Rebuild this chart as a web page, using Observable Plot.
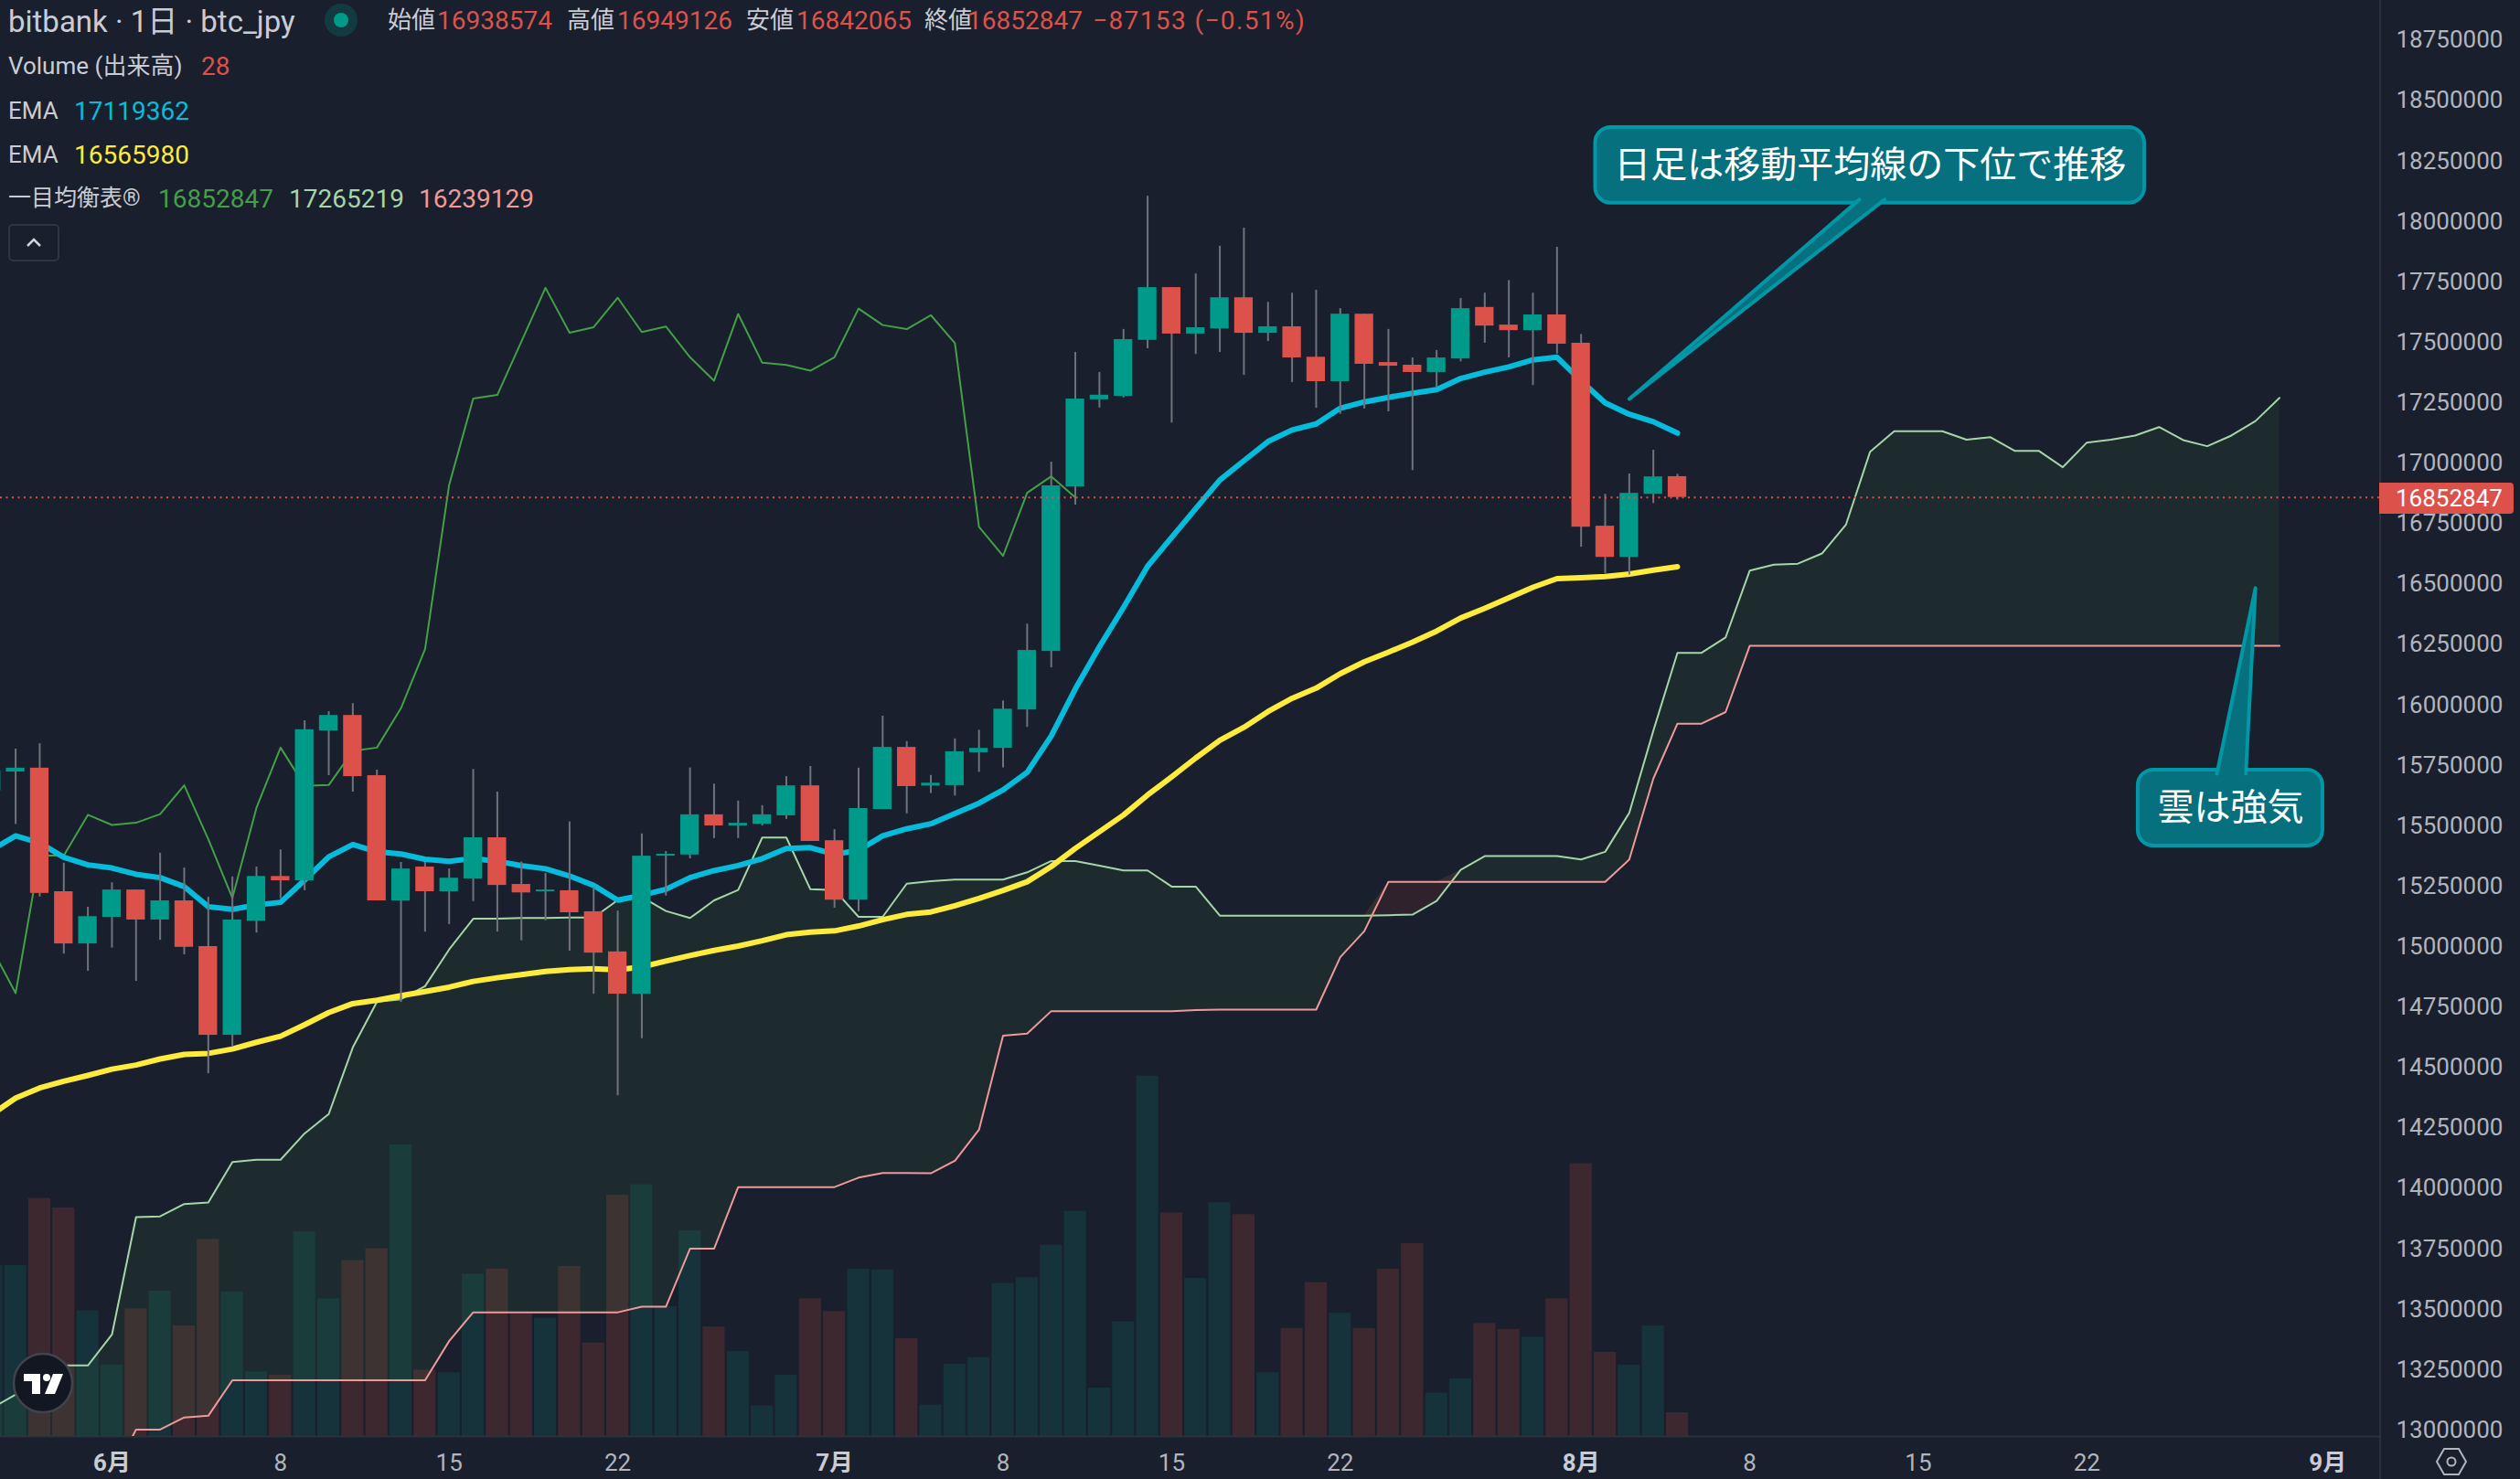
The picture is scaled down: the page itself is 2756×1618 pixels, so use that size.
<!DOCTYPE html>
<html lang="ja">
<head>
<meta charset="utf-8">
<title>bitbank 1日 btc_jpy</title>
<script src="https://cdn.jsdelivr.net/npm/d3@7"></script>
<script src="https://cdn.jsdelivr.net/npm/@observablehq/plot@0.6"></script>
<style>
  html, body { margin: 0; background: #191f2c; }
  #wrap { position: relative; width: 2756px; height: 1618px; overflow: hidden; font-family: Roboto, "Noto Sans CJK JP", sans-serif; }
  #volume, #price { position: absolute; left: 0; top: 0; width: 2756px; height: 1618px; }
  .t { position: absolute; white-space: pre; line-height: 1; font-size: 28px; color: #c9ccd4; }
  .red { color: #dc524b; }
</style>
</head>
<body>
<div id="wrap">
  <div id="volume"></div>
  <div id="price"></div>
  <div style="position:absolute;left:2602px;top:0;width:2px;height:1618px;background:#2a303c"></div>

  <div class="t" style="left:9px;top:7px;font-size:33px">bitbank · 1日 · btc_jpy</div>
  <div style="position:absolute;left:355px;top:4px;width:36px;height:36px;border-radius:50%;background:rgba(0,154,138,.22)"></div>
  <div style="position:absolute;left:365px;top:14px;width:16px;height:16px;border-radius:50%;background:#009a8a"></div>
  <div class="t" style="left:424px;top:9px;font-size:26px">始値</div><div class="t red" style="left:478px;top:9px">16938574</div>
  <div class="t" style="left:620px;top:9px;font-size:26px">高値</div><div class="t red" style="left:675px;top:9px">16949126</div>
  <div class="t" style="left:816px;top:9px;font-size:26px">安値</div><div class="t red" style="left:871px;top:9px">16842065</div>
  <div class="t" style="left:1011px;top:9px;font-size:26px">終値</div><div class="t red" style="left:1058px;top:9px">16852847</div>
  <div class="t red" style="left:1195px;top:9px;letter-spacing:1.4px">−87153 (−0.51%)</div>

  <div class="t" style="left:9px;top:59px;font-size:26px">Volume (出来高)</div><div class="t red" style="left:220px;top:59px">28</div>
  <div class="t" style="left:9px;top:108px;font-size:26px">EMA</div><div class="t" style="left:81px;top:108px;color:#06bcdc">17119362</div>
  <div class="t" style="left:9px;top:156px;font-size:26px">EMA</div><div class="t" style="left:81px;top:156px;color:#ffeb3b">16565980</div>
  <div class="t" style="left:9px;top:204px;font-size:25px">一目均衡表®</div>
  <div class="t" style="left:173px;top:204px;color:#43a047">16852847</div>
  <div class="t" style="left:316px;top:204px;color:#a5d6a7">17265219</div>
  <div class="t" style="left:458px;top:204px;color:#ef9a9a">16239129</div>

  <svg style="position:absolute;left:9px;top:245px" width="56" height="41">
    <rect x="1" y="1" width="54" height="39" rx="4" fill="none" stroke="#2e3441" stroke-width="2"/>
    <path d="M21 24 L28 17 L35 24" fill="none" stroke="#d1d4dc" stroke-width="2.5"/>
  </svg>

  <svg style="position:absolute;left:13px;top:1479px" width="68" height="68">
    <circle cx="34" cy="34" r="32" fill="#131722" stroke="#41444c" stroke-width="2.5"/>
    <path d="M13 24 H31 V46 H22 V32 H13 Z M36 46 L45 24 H56 L47 46 Z" fill="#fff"/>
    <circle cx="38" cy="28" r="4" fill="#fff"/>
  </svg>

  <svg style="position:absolute;left:2662px;top:1580px" width="38" height="38">
    <path d="M11 5 H27 L35 19 L27 33 H11 L3 19 Z" fill="none" stroke="#b2b5be" stroke-width="2"/>
    <circle cx="19" cy="19" r="4.5" fill="none" stroke="#b2b5be" stroke-width="2"/>
  </svg>
</div>

<script>
// day index: 0 = 5/28, one step per day. Prices in thousand yen.
const firstDay = -1;

const opens = [15639,15717,15733,15222,15006,15116,15229,15105,15184,14995,14628,15100,15285,15267,15887,15951,15702,15184,15324,15222,15275,15445,15252,15222,15226,15139,14973,14798,15369,15374,15540,15494,15501,15536,15660,15433,15187,15562,15819,15659,15661,15797,15815,15974,16216,16896,17257,17271,17503,17721,17529,17550,17679,17532,17559,17433,17332,17611,17411,17400,17370,17426,17639,17566,17543,17608,17491,16734,16605,16866,16939];
const highs = [15800,15812,15834,15340,15158,15259,15229,15381,15320,15199,15283,15324,15395,15929,15967,16000,15725,15343,15343,15316,15728,15634,15345,15298,15511,15239,15142,15461,15388,15734,15667,15597,15578,15698,15740,15479,15733,15948,15843,15703,15854,15890,16011,16329,16999,17453,17370,17548,18099,17721,17778,17892,17967,17660,17698,17710,17634,17611,17548,17430,17461,17676,17698,17750,17698,17888,17527,16866,16950,17048,16949];
const lows = [15560,15500,15200,14964,14893,14989,14851,15021,14961,14469,14579,15051,15193,15226,15702,15634,15184,14764,15055,15086,15181,15055,15019,15102,14976,14798,14378,14614,15204,15358,15442,15442,15494,15521,15430,15154,15139,15562,15544,15628,15618,15716,15734,15902,16148,16821,17223,17265,17468,17161,17445,17453,17358,17498,17328,17222,17197,17219,17207,16964,17306,17414,17491,17430,17316,17446,16647,16537,16532,16828,16842];
const closes = [15721,15733,15215,15006,15119,15229,15105,15184,14992,14628,15105,15285,15267,15892,15951,15698,15184,15316,15222,15278,15445,15248,15217,15229,15135,14968,14798,15369,15377,15540,15494,15505,15540,15660,15430,15187,15566,15819,15657,15671,15801,15815,15977,16220,16901,17260,17276,17506,17721,17529,17555,17679,17532,17559,17430,17332,17611,17404,17396,17370,17430,17634,17562,17543,17608,17487,16730,16605,16870,16938,16853];
const volumes = [201,201,280,269,148,84,150,171,130,232,170,76,72,241,162,207,221,343,78,75,191,197,144,139,200,110,284,296,153,242,129,100,36,72,162,147,197,196,115,37,85,93,180,187,225,265,57,135,424,263,186,275,261,75,127,181,145,127,197,227,51,68,133,126,117,162,321,99,84,130,28];

const emaFast = [15395,15453,15424,15364,15333,15320,15294,15280,15243,15160,15149,15167,15178,15270,15366,15417,15387,15378,15356,15348,15359,15348,15330,15317,15287,15248,15187,15207,15232,15280,15309,15330,15359,15401,15404,15377,15393,15453,15482,15503,15545,15588,15643,15716,15866,16061,16235,16398,16568,16688,16807,16925,17005,17084,17132,17157,17222,17248,17267,17284,17299,17345,17371,17393,17422,17433,17335,17244,17197,17166,17119];
const emaSlow = [14300,14368,14410,14438,14462,14488,14505,14530,14549,14553,14571,14599,14624,14672,14722,14759,14773,14792,14809,14827,14851,14866,14879,14892,14900,14903,14899,14911,14935,14958,14979,14997,15019,15044,15055,15060,15080,15106,15128,15138,15164,15194,15227,15263,15326,15401,15470,15539,15622,15697,15775,15848,15902,15967,16022,16064,16124,16173,16213,16254,16300,16354,16394,16438,16481,16517,16521,16526,16536,16552,16566];
const chikou = [14990,14802,15371,15371,15540,15498,15507,15543,15662,15439,15196,15569,15818,15660,15663,15804,15818,15981,16225,16905,17262,17277,17498,17720,17534,17557,17679,17537,17560,17433,17336,17612,17410,17401,17377,17433,17634,17566,17549,17607,17491,16731,16611,16872,16940,16853];
const senkouA = [13085,13142,13199,13262,13262,13390,13876,13879,13930,13936,14104,14113,14113,14222,14302,14578,14766,14777,14831,14983,15110,15110,15113,15113,15115,15115,15187,15200,15142,15113,15186,15229,15446,15446,15232,15229,15118,15118,15255,15265,15272,15272,15272,15302,15349,15349,15330,15310,15310,15243,15243,15123,15123,15123,15123,15123,15123,15123,15125,15127,15184,15312,15369,15369,15369,15369,15355,15387,15548,15888,16210,16210,16274,16550,16575,16579,16621,16741,17042,17127,17127,17127,17092,17102,17046,17046,16978,17080,17092,17109,17144,17090,17065,17109,17169,17265];
// the first six are below the pane, only the edge of the cloud shows
const senkouB = [12500,12500,12500,12500,12500,12800,12997,12997,13047,13054,13201,13201,13201,13201,13201,13201,13201,13201,13201,13363,13482,13482,13482,13482,13482,13482,13482,13505,13505,13745,13745,14000,14000,14000,14000,14000,14039,14058,14058,14057,14109,14237,14626,14635,14728,14728,14728,14728,14728,14728,14732,14734,14734,14734,14734,14734,14951,15059,15263,15263,15263,15263,15263,15263,15263,15263,15263,15263,15355,15690,15917,15917,15965,16239,16239,16239,16239,16239,16239,16239,16239,16239,16239,16239,16239,16239,16239,16239,16239,16239,16239,16239,16239,16239,16239,16239];

const priceTicks = [18750,18500,18250,18000,17750,17500,17250,17000,16750,16500,16250,16000,15750,15500,15250,15000,14750,14500,14250,14000,13750,13500,13250,13000];
const dayTicks = [11,18,25,41,48,55,72,79,86];
const dayLabels = ["8","15","22","8","15","22","8","15","22"];
const monthTicks = [4,34,65,96];
const monthLabels = ["6月","7月","8月","9月"];

const lastClose = 16852.847;

const UP = "#009a8a", DOWN = "#dc524b";
const candles = opens.map((open, k) => ({
  i: k + firstDay, open, high: highs[k], low: lows[k], close: closes[k], volume: volumes[k],
}));
const rising = candles.filter(d => d.close >= d.open);
const falling = candles.filter(d => d.close < d.open);

const series = values => values.map((v, k) => ({ i: k + firstDay, v }));
const cloud = senkouA.map((a, k) => ({ i: k + firstDay, a, b: senkouB[k], top: Math.max(a, senkouB[k]) }));

const xScale = { type: "linear", domain: [0, 96], range: [16.6, 2545.2] };
const size = { width: 2756, height: 1618, marginTop: 0, marginLeft: 0, marginRight: 154, marginBottom: 47 };

// volume has its own scale, so it gets its own svg underneath
const volumeChart = Plot.plot({
  ...size,
  style: { background: "none", maxWidth: "none" },
  x: { ...xScale, axis: null },
  y: { domain: [0, 1000], range: [1571, 641], axis: null },
  marks: [
    Plot.rect(rising, { x1: d => d.i - 0.46, x2: d => d.i + 0.46, y1: 0, y2: "volume", fill: "#16323a", clip: true }),
    Plot.rect(falling, { x1: d => d.i - 0.46, x2: d => d.i + 0.46, y1: 0, y2: "volume", fill: "#3d2830", clip: true }),
  ],
});
document.getElementById("volume").appendChild(volumeChart);

const CALLOUT_FILL = "#06707f", CALLOUT_EDGE = "#0097a7";

function callout(box, tail, label) {
  return [
    Plot.rect([box], { x1: "x1", x2: "x2", y1: "y1", y2: "y2", fill: CALLOUT_FILL, stroke: CALLOUT_EDGE, strokeWidth: 4, rx: 17, ry: 17 }),
    Plot.line(tail, { x: "i", y: "v", fill: CALLOUT_FILL, stroke: "none" }),
    Plot.line(tail, { x: "i", y: "v", stroke: CALLOUT_EDGE, strokeWidth: 4, strokeLinejoin: "round" }),
    Plot.text([label], {
      x: (box.x1 + box.x2) / 2, y: (box.y1 + box.y2) / 2, text: d => d,
      fill: "#fff", fontSize: 40, fontFamily: "Noto Sans CJK JP",
    }),
  ];
}

const priceChart = Plot.plot({
  ...size,
  style: { background: "none", maxWidth: "none", fontFamily: "Roboto, 'Noto Sans CJK JP', sans-serif" },
  x: xScale,
  y: { type: "linear", domain: [13000, 18750], range: [1562.6, 42] },
  marks: [
    Plot.frame({ anchor: "bottom", stroke: "#2a303c", strokeWidth: 2 }),

    // cloud, green where A is on top, red where B is
    Plot.areaY(cloud, { x: "i", y1: "b", y2: "top", fill: "rgba(67,160,71,.1)", clip: true }),
    Plot.areaY(cloud, { x: "i", y1: "a", y2: "top", fill: "rgba(244,67,54,.1)", clip: true }),
    Plot.line(cloud, { x: "i", y: "a", stroke: "#a5d6a7", strokeWidth: 2, clip: true }),
    Plot.line(cloud, { x: "i", y: "b", stroke: "#ef9a9a", strokeWidth: 2, clip: true }),
    Plot.line(series(chikou), { x: "i", y: "v", stroke: "#43a047", strokeWidth: 2, clip: true }),

    Plot.line(series(emaFast), { x: "i", y: "v", stroke: "#06bcdc", strokeWidth: 6, strokeLinecap: "round", clip: true }),
    Plot.line(series(emaSlow), { x: "i", y: "v", stroke: "#ffeb3b", strokeWidth: 6, strokeLinecap: "round", clip: true }),

    Plot.ruleX(candles, { x: "i", y1: "low", y2: "high", stroke: "#70737b", strokeWidth: 2, clip: true }),
    Plot.rect(rising, { x1: d => d.i - 0.385, x2: d => d.i + 0.385, y1: "open", y2: "close", fill: UP, clip: true }),
    Plot.rect(falling, { x1: d => d.i - 0.385, x2: d => d.i + 0.385, y1: "open", y2: "close", fill: DOWN, clip: true }),

    Plot.ruleY([lastClose], { stroke: DOWN, strokeWidth: 2, strokeDasharray: "2,4.5" }),

    ...callout(
      { x1: 65.6, x2: 88.4, y1: 18070, y2: 18383 },
      [{ i: 76.55, v: 18085 }, { i: 67, v: 17260 }, { i: 77.6, v: 18085 }],
      "日足は移動平均線の下位で推移"
    ),
    ...callout(
      { x1: 88.13, x2: 95.8, y1: 15411, y2: 15725 },
      [{ i: 91.4, v: 15710 }, { i: 93, v: 16478 }, { i: 92.6, v: 15710 }],
      "雲は強気"
    ),

    Plot.axisY({
      anchor: "right", ticks: priceTicks, tickSize: 0, tickPadding: 18, label: null, dy: 1.5,
      tickFormat: d => String(d * 1000), fill: "#b2b5be", fontSize: 26,
    }),
    Plot.axisX({
      ticks: dayTicks, tickSize: 0, tickPadding: 19, label: null,
      tickFormat: d => dayLabels[dayTicks.indexOf(d)], fill: "#b2b5be", fontSize: 26,
    }),
    Plot.axisX({
      ticks: monthTicks, tickSize: 0, tickPadding: 19, label: null,
      tickFormat: d => monthLabels[monthTicks.indexOf(d)], fill: "#c9ccd4", fontSize: 26, fontWeight: 700,
    }),
  ],
});
document.getElementById("price").appendChild(priceChart);

// last price tag on the axis
const tagY = priceChart.scale("y").apply(lastClose);
const tag = document.createElement("div");
tag.className = "t";
tag.textContent = String(Math.round(lastClose * 1000));
tag.style.cssText = `left:2602px;top:${tagY - 16}px;width:129px;height:34px;padding-left:18px;font-size:26px;line-height:34px;` +
  `color:#fff;background:${DOWN};border-radius:0 4px 4px 0`;
document.getElementById("wrap").appendChild(tag);
</script>
</body>
</html>
